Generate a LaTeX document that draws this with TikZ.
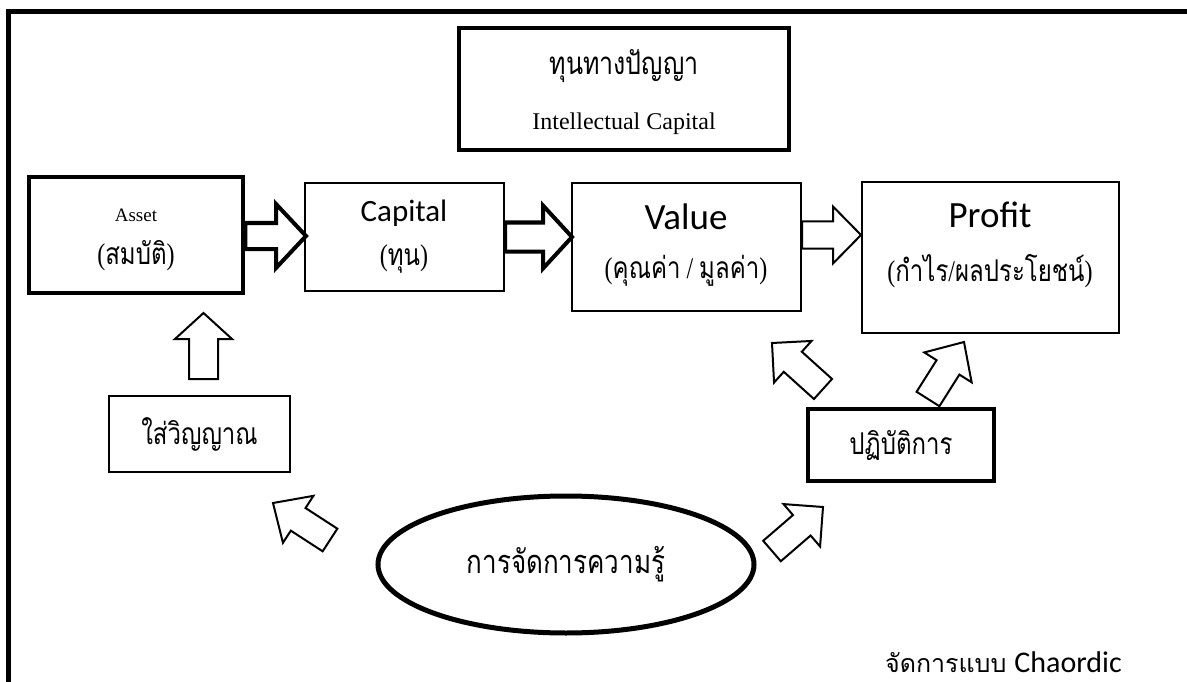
\documentclass[tikz,border=0pt]{standalone}
\usepackage{fontspec}
\usepackage{graphicx}
\setmainfont{Liberation Serif}
\newfontfamily\thai[Script=Thai]{Loma}
\newfontfamily\calib{Carlito}
\newcommand\tall[1]{\scalebox{1}[1.25]{#1}}
\usetikzlibrary{calc,shapes.geometric}
\tikzset{
  thinbox/.style={draw, line width=2pt, rectangle, inner sep=0pt},
  thickbox/.style={draw, line width=4.5pt, rectangle, inner sep=0pt},
  txt/.style={inner sep=0pt, anchor=center},
  thickarr/.style={draw, line width=4pt, fill=white, line join=miter},
  thinarr/.style={draw, line width=2pt, fill=white, line join=miter},
  thaitxt/.style={font=\thai\fontsize{24}{28}\selectfont},
  romtxt/.style={font=\fontsize{24}{28}\selectfont},
}
% #1 style, #2 tail, #3 tip, #4 shaft half width, #5 head half width, #6 head length
\newcommand\blkarrow[6]{%
  \draw[#1] let \p1=(#2), \p2=(#3), \n1={atan2(\y2-\y1,\x2-\x1)}, \n2={veclen(\x2-\x1,\y2-\y1)} in
   [shift={(\x1,\y1)}, rotate=\n1]
   (0pt,{-#4*1pt}) -- ({(\n2-#6)*1pt},{-#4*1pt}) -- ({(\n2-#6)*1pt},{-#5*1pt}) -- ({\n2*1pt},0pt)
   -- ({(\n2-#6)*1pt},{#5*1pt}) -- ({(\n2-#6)*1pt},{#4*1pt}) -- (0pt,{#4*1pt}) -- cycle;}
\begin{document}
\begin{tikzpicture}[x=1pt,y=-1pt]
\useasboundingbox (0,0) rectangle (1187,682);
% outer frame
\draw[line width=5pt] (8.5,700) -- (8.5,11.5) -- (1200,11.5);
% title
\node[thickbox, minimum width=330pt, minimum height=122pt] (title) at (624,89) {};
\node[txt, font=\thai\fontsize{25}{30}\selectfont] (t1) at (624,66) {\tall{ทุนทางปัญญา}};
\node[txt, romtxt] (t2) at (624,124) {Intellectual Capital};
% main row
\node[thickbox, minimum width=214pt, minimum height=116pt] (asset) at (136,235) {};
\node[txt, font=\fontsize{19}{22}\selectfont] (asset1) at (136,215) {Asset};
\node[txt, romtxt] (asset2) at (136,256) {\tall{({\thai สมบัติ})}};
\node[thinbox, minimum width=199pt, minimum height=108pt] (capital) at (404.5,237) {};
\node[txt, font=\calib\fontsize{31}{34}\selectfont] (cap1) at (404,213) {Capital};
\node[txt, romtxt] (cap2) at (404,259) {\tall{({\thai ทุน})}};
\node[thinbox, minimum width=229pt, minimum height=128pt] (value) at (686.5,247) {};
\node[txt, font=\calib\fontsize{37}{40}\selectfont] (val1) at (686,217) {Value};
\node[txt, romtxt] (val2) at (686,271) {\tall{({\thai คุณค่า} / {\thai มูลค่า})}};
\node[thinbox, minimum width=257pt, minimum height=151pt] (profit) at (990.5,257.5) {};
\node[txt, font=\calib\fontsize{37}{40}\selectfont] (pro1) at (990,215) {Profit};
\node[txt, romtxt] (pro2) at (990,271) {\tall{({\thai กำไร}/{\thai ผลประโยชน์})}};
% lower
\node[thinbox, minimum width=181pt, minimum height=76pt, thaitxt] (soul) at (199.5,434) {\tall{ใส่วิญญาณ}};
\node[draw, ellipse, line width=5pt, minimum width=376pt, minimum height=137pt, inner sep=0pt, font=\thai\fontsize{26}{30}\selectfont] (km) at (566,564.5) {\tall{การจัดการความรู้}};
\node[thickbox, minimum width=186pt, minimum height=72pt, thaitxt] (prac) at (901,445) {\tall{ปฏิบัติการ}};
\node[txt, anchor=east] (chaordic) at (1122,662) {{\thai\fontsize{25}{28}\selectfont จัดการแบบ}\hspace{8pt}{\calib\fontsize{30}{34}\selectfont Chaordic}};
% arrow end points
\coordinate (a1s) at (asset.east |- 0,236);
\coordinate (a1e) at ([xshift=2pt]capital.west |- a1s);
\coordinate (a2s) at (capital.east |- 0,237);
\coordinate (a2e) at ([xshift=1pt]value.west |- a2s);
\coordinate (a3s) at (value.east |- 0,235);
\coordinate (a3e) at (profit.west |- a3s);
\coordinate (upS) at (203.5,379);
\coordinate (upE) at (203.5,313);
\coordinate (nwS) at (330,540);
\coordinate (nwE) at (273,503);
\coordinate (neS) at (772,551);
\coordinate (neE) at (823,507);
\coordinate (pvS) at (823,389);
\coordinate (pvE) at (772,343);
\coordinate (ppS) at (928,399);
\coordinate (ppE) at (964,342);
% block arrows
\blkarrow{thickarr}{a1s}{a1e}{13}{32}{30}
\blkarrow{thickarr}{a2s}{a2e}{14.5}{31.5}{29}
\blkarrow{thinarr}{a3s}{a3e}{13.5}{28.5}{28}
\blkarrow{thinarr}{upS}{upE}{14.5}{28.5}{26}
\blkarrow{thinarr}{nwS}{nwE}{13.5}{28}{30}
\blkarrow{thinarr}{neS}{neE}{13.5}{28}{28}
\blkarrow{thinarr}{pvS}{pvE}{13.5}{28}{28}
\blkarrow{thinarr}{ppS}{ppE}{13.5}{28}{30}
\end{tikzpicture}
\end{document}
